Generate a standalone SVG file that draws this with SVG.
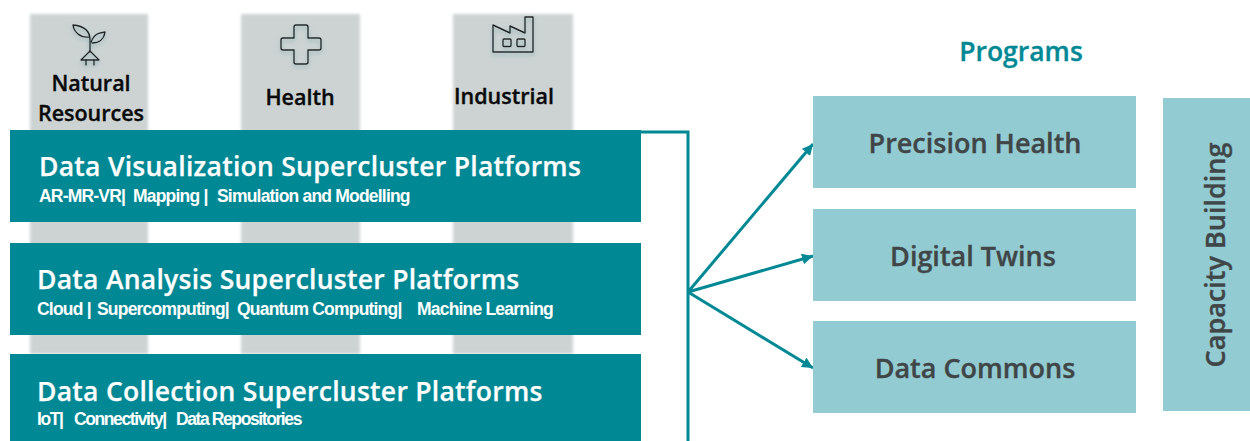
<svg xmlns="http://www.w3.org/2000/svg" width="1250" height="441" viewBox="0 0 1250 441">
<style>
.col{fill:#cdd3d3;filter:url(#soft)}
.bar{fill:#008894}
.prog{fill:#93cbd2}
.cat{font:600 21.5px "Open Sans","Noto Sans",sans-serif;fill:#0a0a0a;stroke:#0a0a0a;stroke-width:.35;text-anchor:middle}
.h{font:600 26.5px "Open Sans","Noto Sans",sans-serif;fill:#fff;stroke:#fff;stroke-width:.25;letter-spacing:.27px}
.s{font:bold 17.5px "Liberation Sans",Arial,sans-serif;fill:#fff;letter-spacing:-.8px}
.s3{letter-spacing:-1.4px}
.p{font:600 27px "Open Sans","Noto Sans",sans-serif;fill:#404647;stroke:#404647;stroke-width:.35;text-anchor:middle}
.t{font:600 26.5px "Open Sans","Noto Sans",sans-serif;fill:#008894;stroke:#008894;stroke-width:.3;text-anchor:middle}
.ic{fill:none;stroke:#222;stroke-width:1.4;stroke-linejoin:round;stroke-linecap:round}
.c{fill:none;stroke:#008894;stroke-width:3}
.a{fill:none;stroke:#008894;stroke-width:3;marker-end:url(#arr)}
</style>
<defs>
<filter id="soft" x="-10%" y="-5%" width="120%" height="110%"><feGaussianBlur stdDeviation="1.6"/></filter>
<filter id="glow" x="-30%" y="-30%" width="160%" height="170%"><feDropShadow dx="0" dy="2.5" stdDeviation="2" flood-color="#7fa9ad" flood-opacity=".8"/></filter>
<marker id="arr" markerUnits="userSpaceOnUse" markerWidth="13" markerHeight="12" refX="11" refY="5.5" orient="auto"><path d="M0 0L11 5.5L0 11Z" fill="#008894"/></marker>
</defs>
<g id="col-natural"><rect class="col" x="30" y="14" width="118" height="340"/>
<g class="ic" filter="url(#glow)"><path d="M90 52V40C90 32 85 26 73 25C74 32 80 38 89 37"/><path d="M91 42C95 33 99 33 105 32C104 39 99 43 92 43"/><path d="M90 51L81 60H99Z"/><path d="M86 60V65M94 60V65"/></g>
<text class="cat" x="91" y="91">Natural</text><text class="cat" x="91" y="121">Resources</text></g>
<g id="col-health"><rect class="col" x="241" y="14" width="119" height="340"/>
<path class="ic" filter="url(#glow)" d="M296 25H306Q308 25 308 27V38H319Q321 38 321 40V48Q321 50 319 50H308V62Q308 64 306 64H296Q294 64 294 62V50H283Q281 50 281 48V40Q281 38 283 38H294V27Q294 25 296 25Z"/>
<text class="cat" x="300" y="105">Health</text></g>
<g id="col-industrial"><rect class="col" x="453" y="14" width="120" height="340"/>
<g class="ic" filter="url(#glow)" stroke-width="1.2"><path d="M493 52V25L510 33V26L525 33V17H533V52Z"/><rect x="503" y="39" width="8" height="7.5" rx="1"/><rect x="517" y="39" width="8" height="7.5" rx="1"/></g>
<text class="cat" x="504" y="104">Industrial</text></g>
<g id="platform-visualization"><rect class="bar" x="10" y="130" width="631" height="92"/>
<text class="h" x="39" y="176">Data Visualization Supercluster Platforms</text>
<text class="s" y="202"><tspan x="39">AR-MR-VR|</tspan><tspan x="133">Mapping |</tspan><tspan x="217">Simulation and Modelling</tspan></text></g>
<g id="platform-analysis"><rect class="bar" x="10" y="243" width="631" height="92"/>
<text class="h" x="37" y="289">Data Analysis Supercluster Platforms</text>
<text class="s" y="315"><tspan x="37">Cloud |</tspan><tspan x="97">Supercomputing|</tspan><tspan x="237">Quantum Computing|</tspan><tspan x="417">Machine Learning</tspan></text></g>
<g id="platform-collection"><rect class="bar" x="10" y="354" width="631" height="87"/>
<text class="h" x="37" y="401">Data Collection Supercluster Platforms</text>
<text class="s s3" y="425"><tspan x="37">IoT|</tspan><tspan x="74">Connectivity|</tspan><tspan x="176">Data Repositories</tspan></text></g>
<g id="connectors">
<path class="c" d="M641 132H688V441"/>
<path class="a" d="M688 292L813 144"/>
<path class="a" d="M688 292L813 256"/>
<path class="a" d="M688 292L813 368"/>
</g>
<g id="programs-title"><text class="t" x="1021" y="61">Programs</text></g>
<g id="program-health"><rect class="prog" x="813" y="96" width="323" height="92"/><text class="p" x="975" y="153">Precision Health</text></g>
<g id="program-twins"><rect class="prog" x="813" y="209" width="323" height="92"/><text class="p" x="973" y="266">Digital Twins</text></g>
<g id="program-commons"><rect class="prog" x="813" y="321" width="323" height="92"/><text class="p" x="975" y="378">Data Commons</text></g>
<g id="capacity-building"><rect class="prog" x="1163" y="98" width="87" height="313"/><text class="p" transform="translate(1225 255) rotate(-90)">Capacity Building</text></g>
</svg>
